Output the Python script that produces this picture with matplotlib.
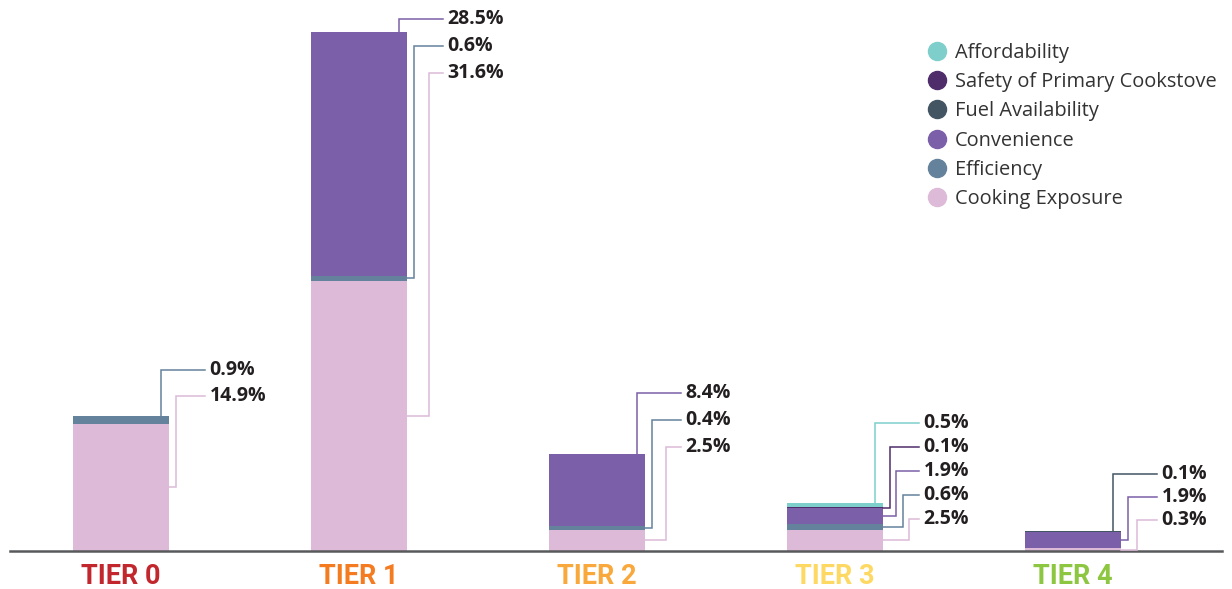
import matplotlib.pyplot as plt
from matplotlib.lines import Line2D

tiers = ["TIER 0", "TIER 1", "TIER 2", "TIER 3", "TIER 4"]
tier_colors = ["#C1272D", "#F47B20", "#F9A83C", "#FDD964", "#8DC641"]

# stack order, bottom to top
categories = ["Cooking Exposure", "Efficiency", "Convenience",
              "Fuel Availability", "Safety of Primary Cookstove", "Affordability"]
cat_colors = ["#DDBAD8", "#65829C", "#7B5FA8", "#435563", "#4F2D6B", "#7ECFCB"]

cooking_exposure = [14.9, 31.6, 2.5, 2.5, 0.3]
efficiency = [0.9, 0.6, 0.4, 0.6, 0.0]
convenience = [0.0, 28.5, 8.4, 1.9, 1.9]
fuel_availability = [0.0, 0.0, 0.0, 0.0, 0.1]
safety = [0.0, 0.0, 0.0, 0.1, 0.0]
affordability = [0.0, 0.0, 0.0, 0.5, 0.0]
series = [cooking_exposure, efficiency, convenience, fuel_availability, safety, affordability]

# label placement (top label height in %, gaps / leader steps in px)
label_top = [21.2, 62.2, 18.5, 15.0, 9.0]
label_gap_px = [26, 27, 27, 24, 23]
leader_step_px = [14, 15, 14, 6.5, 9]

W, H = 1232, 589
fig = plt.figure(figsize=(W / 100, H / 100), dpi=100)
ax_l, ax_r, ax_b, ax_t = 10, 1222, 551, 12
ax = fig.add_axes([ax_l / W, (H - ax_b) / H, (ax_r - ax_l) / W, (ax_b - ax_t) / H])
xlim = (-0.466, 4.626)
ylim = (0, 63)
ax.set_xlim(*xlim)
ax.set_ylim(*ylim)
PX = (ax_r - ax_l) / (xlim[1] - xlim[0])   # px per x unit
PY = (ax_b - ax_t) / (ylim[1] - ylim[0])   # px per %

width = 0.40
x = list(range(len(tiers)))
bottoms = [0.0] * len(tiers)
for vals, col in zip(series, cat_colors):
    ax.bar(x, vals, width, bottom=bottoms, color=col, linewidth=0, zorder=2)
    bottoms = [b + v for b, v in zip(bottoms, vals)]

# leader lines and value labels
for i in x:
    segs = []
    b = 0.0
    for k, vals in enumerate(series):
        if vals[i] > 0:
            segs.append((k, b, vals[i]))
            b += vals[i]
    right = i + width / 2
    end_x = right + 36 / PX
    for j, (k, bot, v) in enumerate(reversed(segs)):
        ly = label_top[i] - j * label_gap_px[i] / PY
        col = cat_colors[k]
        if j == 0:
            vx = right - 8 / PX
            xs = [vx, vx, end_x]
            ys = [bot + v, ly, ly]
        else:
            vx = right + (7 + leader_step_px[i] * (j - 1)) / PX
            sy = bot + v / 2
            xs = [right, vx, vx, end_x]
            ys = [sy, sy, ly, ly]
        ax.plot(xs, ys, color=col, lw=1.1, solid_joinstyle="miter", zorder=3, clip_on=False)
        ax.text(right + 41 / PX, ly, f"{v:.1f}%", ha="left", va="center",
                fontsize=14, fontweight="bold", color="#231F20",
                family=["Open Sans", "DejaVu Sans"])

for s in ["top", "right", "left"]:
    ax.spines[s].set_visible(False)
ax.spines["bottom"].set_color("#58595B")
ax.spines["bottom"].set_linewidth(1.8)
ax.set_yticks([])
ax.set_xticks(x, tiers)
ax.tick_params(axis="x", length=0, pad=9)
for lab, c in zip(ax.get_xticklabels(), tier_colors):
    lab.set_color(c)
    lab.set_fontweight("bold")
    lab.set_fontsize(19.5)
    lab.set_family(["Roboto", "DejaVu Sans"])

handles = [Line2D([], [], marker="o", ls="", color=c, markersize=13)
           for c in cat_colors[::-1]]
leg = ax.legend(handles, categories[::-1], loc="upper left",
                bbox_to_anchor=(911 / W, 1 - 25 / H), bbox_transform=fig.transFigure,
                frameon=False, handlelength=0.8, handletextpad=0.5,
                labelspacing=0.46, prop={"family": ["Open Sans", "DejaVu Sans"], "size": 14.4})
for t in leg.get_texts():
    t.set_color("#333333")

fig.savefig("out.png", dpi=100)
